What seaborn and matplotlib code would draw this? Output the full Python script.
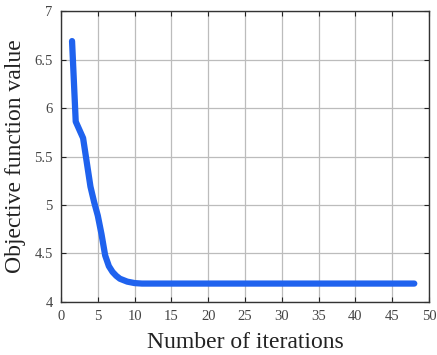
import matplotlib
matplotlib.use("Agg")
import matplotlib.pyplot as plt
import seaborn as sns
import pandas as pd

iterations = [1.5, 2, 3, 4, 4.5, 5, 5.5, 6, 6.5, 7, 7.5, 8, 9, 10, 11, 12, 13, 14, 15,
              16, 17, 18, 19, 20, 21, 22, 23, 24, 25, 26, 27, 28, 29, 30, 31, 32, 33,
              34, 35, 36, 37, 38, 39, 40, 41, 42, 43, 44, 45, 46, 47, 48]
objective = [6.69, 5.86, 5.69, 5.19, 5.03, 4.89, 4.70, 4.48, 4.37, 4.31, 4.27, 4.24,
             4.21, 4.195, 4.19, 4.19, 4.19, 4.19, 4.19, 4.19, 4.19, 4.19, 4.19, 4.19,
             4.19, 4.19, 4.19, 4.19, 4.19, 4.19, 4.19, 4.19, 4.19, 4.19, 4.19, 4.19,
             4.19, 4.19, 4.19, 4.19, 4.19, 4.19, 4.19, 4.19, 4.19, 4.19, 4.19, 4.19,
             4.19, 4.19, 4.19, 4.19]
x_ticks = [0, 5, 10, 15, 20, 25, 30, 35, 40, 45, 50]
y_ticks = [4, 4.5, 5, 5.5, 6, 6.5, 7]
y_tick_labels = ["4", "4.5", "5", "5.5", "6", "6.5", "7"]

sns.set_style("white")
plt.rcParams["font.family"] = ["Liberation Serif", "DejaVu Serif"]

df = pd.DataFrame({"it": iterations, "val": objective})

fig = plt.figure(figsize=(4.37, 3.55), dpi=100)
ax = fig.add_axes([0.1396, 0.1493, 0.9817 - 0.1396, 0.969 - 0.1493])

sns.lineplot(data=df, x="it", y="val", ax=ax, color="#1f62ee", linewidth=4.5,
             solid_capstyle="round", solid_joinstyle="round")

ax.set_xlim(0, 50)
ax.set_ylim(4, 7)
ax.set_xticks(x_ticks)
ax.set_yticks(y_ticks)
ax.set_yticklabels(y_tick_labels)
ax.grid(True, color="#bcbcbc", linewidth=0.9)
ax.set_axisbelow(True)
ax.tick_params(direction="in", length=3.5, width=0.8, colors="#222222",
               labelcolor="#444444", labelsize=10.5, top=True, right=True,
               bottom=True, left=True, pad=6)
for s in ax.spines.values():
    s.set_visible(True)
    s.set_color("#333333")
    s.set_linewidth(1.0)

ax.set_xlabel("Number of iterations", fontsize=17, color="#222222", labelpad=6)
ax.set_ylabel("Objective function value", fontsize=17, color="#222222", labelpad=6)

fig.savefig("out.png", dpi=100)
